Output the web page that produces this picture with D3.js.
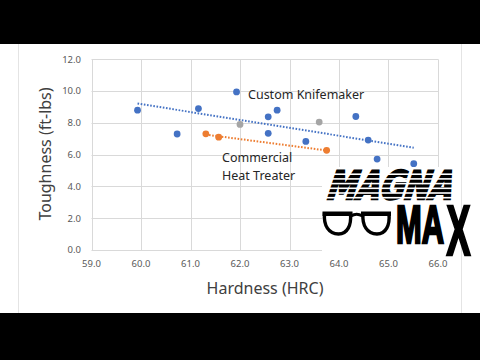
<!DOCTYPE html>
<html>
<head>
<meta charset="utf-8">
<script src="https://cdn.jsdelivr.net/npm/d3@7"></script>
<style>
  body { margin: 0; background: #000; }
  svg { display: block; }
</style>
</head>
<body>
<svg width="480" height="360"></svg>
<script>
// hardness (HRC) vs toughness (ft-lbs)
const customHrc = [59.93, 60.73, 61.16, 61.93, 62.57, 62.75, 62.57, 63.33, 64.34, 64.59, 64.77, 65.51];
const customTough = [8.8, 7.3, 8.9, 9.95, 8.38, 8.8, 7.34, 6.83, 8.4, 6.92, 5.72, 5.43];
const commercialHrc = [61.31, 61.57, 63.75];
const commercialTough = [7.31, 7.1, 6.27];
const otherHrc = [62.0, 63.6];
const otherTough = [7.9, 8.05];
const xTicks = [59, 60, 61, 62, 63, 64, 65, 66];
const yTicks = [0, 2, 4, 6, 8, 10, 12];

const svg = d3.select("svg");
const font = "'Noto Sans', 'Open Sans', sans-serif";

// letterbox bars + white slide
svg.append("rect").attr("width", 480).attr("height", 360).attr("fill", "#000");
svg.append("rect").attr("x", 0).attr("y", 44).attr("width", 480).attr("height", 269).attr("fill", "#fff");
svg.append("line").attr("x1", 18.5).attr("x2", 18.5).attr("y1", 44).attr("y2", 313).attr("stroke", "#e4e4e4");
svg.append("line").attr("x1", 461.5).attr("x2", 461.5).attr("y1", 44).attr("y2", 313).attr("stroke", "#e4e4e4");

const x = d3.scaleLinear().domain([59, 66]).range([91.5, 438]);
const y = d3.scaleLinear().domain([0, 12]).range([250, 59.3]);

// gridlines
const grid = svg.append("g").attr("stroke", "#d9d9d9").attr("stroke-width", 1);
grid.selectAll(".gy").data(yTicks).join("line")
    .attr("x1", x(59)).attr("x2", x(66))
    .attr("y1", d => Math.round(y(d)) + 0.5).attr("y2", d => Math.round(y(d)) + 0.5);
grid.selectAll(".gx").data(xTicks).join("line")
    .attr("y1", y(0)).attr("y2", y(12))
    .attr("x1", d => Math.round(x(d)) + 0.5).attr("x2", d => Math.round(x(d)) + 0.5);

// tick labels
svg.append("g").selectAll("text").data(yTicks).join("text")
    .attr("x", 81).attr("y", d => y(d)).attr("dy", "0.35em")
    .attr("text-anchor", "end").attr("font-family", font).attr("font-size", 9.5)
    .attr("fill", "#595959").text(d => d.toFixed(1));
svg.append("g").selectAll("text").data(xTicks).join("text")
    .attr("x", d => x(d)).attr("y", 264).attr("dy", "0.35em")
    .attr("text-anchor", "middle").attr("font-family", font).attr("font-size", 9.5)
    .attr("fill", "#595959").text(d => d.toFixed(1));

// axis titles
svg.append("text").attr("x", 265).attr("y", 288).attr("dy", "0.35em")
    .attr("text-anchor", "middle").attr("font-family", font).attr("font-size", 16)
    .attr("fill", "#404040").text("Hardness (HRC)");
svg.append("text").attr("transform", "translate(45,154) rotate(-90)").attr("dy", "0.35em")
    .attr("text-anchor", "middle").attr("font-family", font).attr("font-size", 16)
    .attr("fill", "#404040").text("Toughness (ft-lbs)");

// least squares trendline over a group
function trend(xs, ys) {
    const mx = d3.mean(xs), my = d3.mean(ys);
    const sxy = d3.sum(xs, (v, i) => (v - mx) * (ys[i] - my));
    const sxx = d3.sum(xs, v => (v - mx) * (v - mx));
    const b = sxy / sxx;
    const ext = d3.extent(xs);
    return ext.map(v => [v, my + b * (v - mx)]);
}
const line = d3.line().x(d => x(d[0])).y(d => y(d[1]));
svg.append("path").attr("d", line(trend(customHrc.concat(otherHrc), customTough.concat(otherTough))))
    .attr("fill", "none").attr("stroke", "#4472c4").attr("stroke-width", 2)
    .attr("stroke-dasharray", "1.6,1.6");
svg.append("path").attr("d", line(trend(commercialHrc, commercialTough)))
    .attr("fill", "none").attr("stroke", "#ed7d31").attr("stroke-width", 2)
    .attr("stroke-dasharray", "1.6,1.6");

// points
function dots(xs, ys, color) {
    svg.append("g").selectAll("circle").data(xs).join("circle")
        .attr("cx", d => x(d)).attr("cy", (d, i) => y(ys[i]))
        .attr("r", 3.4).attr("fill", color);
}
dots(customHrc, customTough, "#4472c4");
dots(otherHrc, otherTough, "#a5a5a5");
dots(commercialHrc, commercialTough, "#ed7d31");

// annotations
svg.append("text").attr("x", 248).attr("y", 94.5).attr("dy", "0.35em")
    .attr("font-family", font).attr("font-size", 12.5).attr("fill", "#262626")
    .text("Custom Knifemaker");
svg.append("text").attr("x", 222).attr("y", 157.5).attr("dy", "0.35em")
    .attr("font-family", font).attr("font-size", 12.5).attr("fill", "#262626")
    .text("Commercial");
svg.append("text").attr("x", 222).attr("y", 175.5).attr("dy", "0.35em")
    .attr("font-family", font).attr("font-size", 12.5).attr("fill", "#262626")
    .text("Heat Treater");

// MAGNA MAX logo
const logo = svg.append("g");
logo.append("rect").attr("x", 322).attr("y", 167).attr("width", 139).attr("height", 91).attr("fill", "#fff");
logo.append("text").attr("transform", "translate(325,199) skewX(-18)")
    .attr("font-family", "'DejaVu Sans', sans-serif").attr("font-weight", "bold")
    .attr("font-size", 39)
    .attr("textLength", 125).attr("lengthAdjust", "spacingAndGlyphs")
    .attr("fill", "#000").attr("stroke", "#000").attr("stroke-width", 2.4)
    .attr("stroke-linejoin", "miter").text("MAGNA");
logo.append("g").selectAll("rect").data(d3.range(6)).join("rect")
    .attr("x", 320).attr("width", 140)
    .attr("y", d => 173.4 + d * 4.7).attr("height", 1.6).attr("fill", "#fff");

// glasses
const g = logo.append("g").attr("fill", "#fff").attr("stroke", "#000").attr("stroke-width", 3.4);
[337.5, 376].forEach(cx => {
    const l = cx - 13, r = cx + 13;
    g.append("path").attr("d",
        `M${l},214 L${r},214 C${r + 1},225 ${r - 3},234 ${cx + 1},234 C${l + 4},234 ${l - 1},225 ${l},214 Z`);
    g.append("rect").attr("x", cx - 15).attr("y", 211.5).attr("width", 30).attr("height", 4.5)
        .attr("fill", "#000").attr("stroke", "none");
});
g.append("path").attr("d", "M351,216 Q356.5,212.5 362.5,216").attr("fill", "none").attr("stroke-width", 2.8);

logo.append("text").attr("x", 396).attr("y", 243)
    .attr("font-family", "'Liberation Sans', sans-serif").attr("font-weight", 700)
    .attr("font-size", 53).attr("textLength", 48).attr("lengthAdjust", "spacingAndGlyphs")
    .attr("fill", "#000").attr("stroke", "#000").attr("stroke-width", 2.6).text("MA");
logo.append("text").attr("x", 446.5).attr("y", 255)
    .attr("font-family", "'Liberation Sans', sans-serif").attr("font-weight", 700)
    .attr("font-size", 70).attr("textLength", 24).attr("lengthAdjust", "spacingAndGlyphs")
    .attr("fill", "#000").attr("stroke", "#000").attr("stroke-width", 2.6).text("X");
</script>
</body>
</html>
